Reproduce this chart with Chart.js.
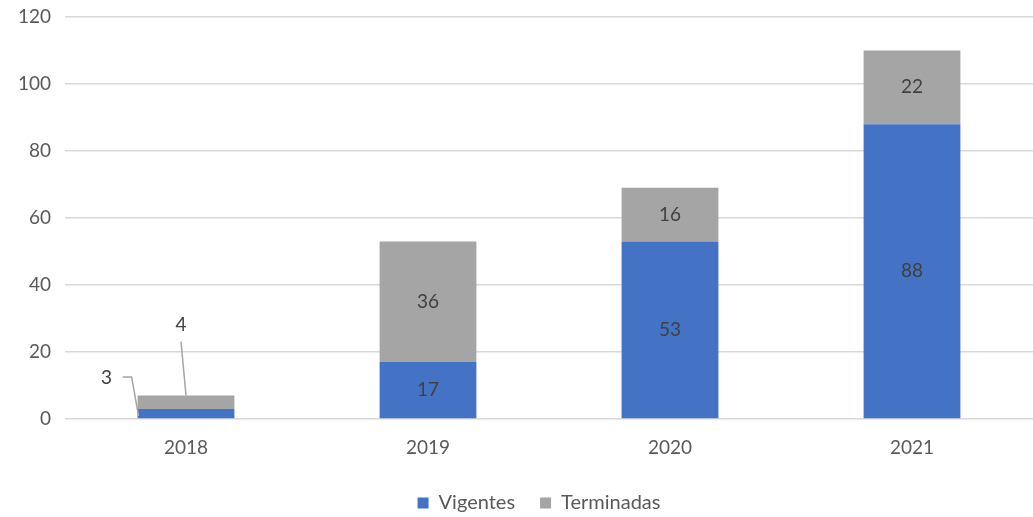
<!DOCTYPE html>
<html>
<head>
<meta charset="utf-8">
<script src="https://cdn.jsdelivr.net/npm/chart.js@4"></script>
<style>
  html, body { margin: 0; padding: 0; background: #ffffff; }
  #wrap { width: 1033px; height: 517px; }
</style>
</head>
<body>
<div id="wrap"><canvas id="chart"></canvas></div>
<script>
const years = ['2018', '2019', '2020', '2021'];
const vigentes = [3, 17, 53, 88];
const terminadas = [4, 36, 16, 22];

const FONT = 'Lato, "Open Sans", sans-serif';

// labels inside the bars, small ones get a leader line
const barLabels = {
    id: 'barLabels',
    afterDatasetsDraw(chart) {
        const ctx = chart.ctx;
        ctx.save();
        ctx.font = '19px ' + FONT;
        ctx.fillStyle = '#404040';
        ctx.textAlign = 'center';
        ctx.textBaseline = 'middle';
        chart.data.datasets.forEach((ds, di) => {
            const meta = chart.getDatasetMeta(di);
            meta.data.forEach((bar, i) => {
                const v = ds.data[i];
                const top = Math.min(bar.y, bar.base);
                const bottom = Math.max(bar.y, bar.base);
                const h = bottom - top;
                const left = bar.x - bar.width / 2;
                if (h > 30) {
                    ctx.fillText(v, bar.x, (top + bottom) / 2);
                    return;
                }
                ctx.strokeStyle = '#a5a5a5';
                ctx.lineWidth = 1.5;
                ctx.beginPath();
                if (di === 0) {
                    // label to the left
                    const tx = left - 31, ty = top - 32;
                    ctx.moveTo(tx + 16, ty);
                    ctx.lineTo(tx + 25, ty);
                    ctx.lineTo(left + 1, bottom - 2);
                    ctx.stroke();
                    ctx.fillText(v, tx, ty + 1);
                } else {
                    const tx = bar.x - 5, ty = top - 71;
                    ctx.moveTo(tx, ty + 17);
                    ctx.lineTo(bar.x, top);
                    ctx.stroke();
                    ctx.fillText(v, tx, ty);
                }
            });
        });
        ctx.restore();
    }
};

// nudge the legend a bit right, like in the original
const legendShift = {
    id: 'legendShift',
    afterLayout(chart) {
        chart.legend.left += 18;
        chart.legend.right += 18;
    }
};

new Chart(document.getElementById('chart'), {
    type: 'bar',
    data: {
        labels: years,
        datasets: [
            {
                label: 'Vigentes',
                data: vigentes,
                backgroundColor: '#4472c4',
                barPercentage: 0.4,
                categoryPercentage: 1.0
            },
            {
                label: 'Terminadas',
                data: terminadas,
                backgroundColor: '#a5a5a5',
                barPercentage: 0.4,
                categoryPercentage: 1.0
            }
        ]
    },
    options: {
        responsive: true,
        maintainAspectRatio: false,
        animation: false,
        layout: { padding: { top: 17, right: -9, left: 0, bottom: 0 } },
        scales: {
            x: {
                stacked: true,
                grid: { display: false },
                border: { display: false },
                ticks: { color: '#595959', font: { family: FONT, size: 19 }, padding: 9 },
                afterFit(scale) { scale.height = 49; }
            },
            y: {
                stacked: true,
                min: 0,
                max: 120,
                ticks: { stepSize: 20, color: '#595959', font: { family: FONT, size: 19 }, padding: 14 },
                grid: { color: '#d9d9d9', lineWidth: 1.5, drawTicks: false },
                border: { display: false },
                afterFit(scale) {
                    scale.width = 65;
                    scale.paddingTop = 0;
                    scale.paddingBottom = 0;
                }
            }
        },
        plugins: {
            legend: {
                position: 'bottom',
                maxHeight: 49,
                labels: {
                    color: '#595959',
                    font: { family: FONT, size: 20 },
                    boxWidth: 11,
                    boxHeight: 11,
                    padding: 25
                }
            },
            tooltip: { enabled: false }
        }
    },
    plugins: [barLabels, legendShift]
});
</script>
</body>
</html>
